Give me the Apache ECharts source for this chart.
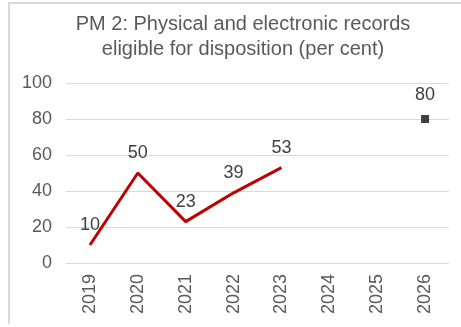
<!DOCTYPE html>
<html>
<head>
<meta charset="utf-8">
<script src="https://cdn.jsdelivr.net/npm/echarts@6/dist/echarts.min.js"></script>
<style>
  html, body { margin: 0; padding: 0; background: #fff; }
  .frame {
    position: absolute; left: 8px; top: 2px; width: 470px; height: 320px;
    border-left: 2px solid #d9d9d9; border-top: 2px solid #d9d9d9;
  }
  #chart { position: absolute; left: 0; top: 0; width: 461px; height: 327px; }
</style>
</head>
<body>
<div class="frame"></div>
<div id="chart"></div>
<script>
// 年份
const years = ['2019', '2020', '2021', '2022', '2023', '2024', '2025', '2026']
// 实际值
const actual = [10, 50, 23, 39, 53, null, null, null]
// 目标值
const target = [null, null, null, null, null, null, null, 80]

const chart = echarts.init(document.getElementById('chart'))
const font = 'Liberation Sans, Arial, sans-serif'

const labelStyle = {
  show: true,
  position: 'top',
  distance: 11,
  fontSize: 18,
  color: '#404040',
  fontFamily: font
}

chart.setOption({
  animation: false,
  title: {
    text: 'PM 2: Physical and electronic records\neligible for disposition (per cent)',
    left: 238,
    textAlign: 'center',
    top: 7,
    textStyle: {
      fontSize: 20,
      fontWeight: 'normal',
      color: '#595959',
      lineHeight: 25,
      fontFamily: font
    }
  },
  grid: { left: 66, right: 12, top: 83, bottom: 64, containLabel: false },
  xAxis: {
    type: 'category',
    data: years,
    axisLine: { show: false },
    axisTick: { show: false },
    axisLabel: {
      rotate: 90,
      margin: 11,
      fontSize: 18,
      color: '#595959',
      fontFamily: font
    }
  },
  yAxis: {
    type: 'value',
    min: 0,
    max: 100,
    interval: 20,
    axisLine: { show: false },
    axisTick: { show: false },
    splitLine: { lineStyle: { color: '#d9d9d9', width: 1 } },
    axisLabel: {
      margin: 14,
      fontSize: 18,
      color: '#595959',
      fontFamily: font
    }
  },
  series: [
    {
      name: 'Actual',
      type: 'line',
      data: actual,
      symbol: 'circle',
      symbolSize: 0,
      lineStyle: { color: '#c00000', width: 3 },
      itemStyle: { color: '#c00000' },
      label: labelStyle
    },
    {
      name: 'Target',
      type: 'line',
      data: target,
      symbol: 'rect',
      symbolSize: 8,
      lineStyle: { width: 0 },
      itemStyle: { color: '#404040' },
      label: labelStyle
    }
  ]
})
</script>
</body>
</html>
